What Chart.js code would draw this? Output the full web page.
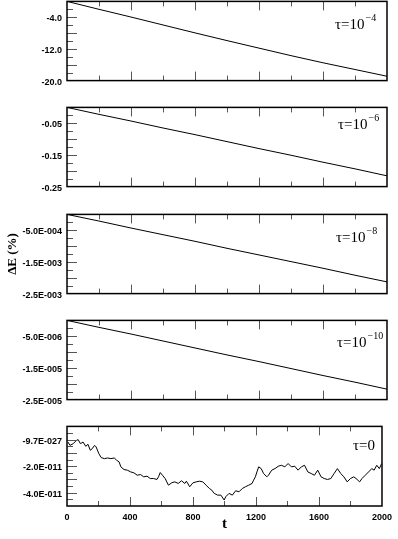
<!DOCTYPE html>
<html>
<head>
<meta charset="utf-8">
<script src="https://cdn.jsdelivr.net/npm/chart.js@4/dist/chart.umd.min.js"></script>
<style>
  body { margin: 0; background: #fff; }
  #wrap { position: relative; width: 398px; height: 539px; overflow: hidden; }
  #wrap canvas { position: absolute; left: 0; }
</style>
</head>
<body>
<div id="wrap"></div>
<script>
'use strict';

// time axis
const tSteps = [0, 200, 400, 600, 800, 1000, 1200, 1400, 1600, 1800, 2000];
const tTickLabels = ['0', '400', '800', '1200', '1600', '2000'];

// energy error, one series per tau
const dE_tau4 = [0, -2.0, -3.95, -5.95, -7.95, -9.9, -11.8, -13.7, -15.5, -17.2, -18.9];
const dE_tau6 = [0, -0.022, -0.043, -0.065, -0.086, -0.108, -0.130, -0.151, -0.173, -0.194, -0.216];
const dE_tau8 = [0, -2.1e-4, -4.3e-4, -6.4e-4, -8.5e-4, -1.07e-3, -1.28e-3, -1.49e-3, -1.70e-3, -1.92e-3, -2.13e-3];
const dE_tau10 = [0, -2.2e-6, -4.3e-6, -6.5e-6, -8.7e-6, -1.09e-5, -1.30e-5, -1.52e-5, -1.74e-5, -1.95e-5, -2.17e-5];

// tau = 0 : noisy trace (values in units of 1e-11 %)
const t_tau0 = [6, 19, 40, 60, 71, 85, 102, 119, 133, 148, 160, 175, 185, 202, 217, 237, 258, 279, 300, 315,
  331, 342, 362, 383, 404, 425, 446, 467, 487, 508, 529, 550, 571, 581, 592, 606, 623, 644, 665, 685,
  706, 727, 748, 758, 779, 800, 821, 842, 862, 883, 904, 919, 935, 956, 977, 998, 1008, 1029, 1050, 1071,
  1092, 1113, 1133, 1154, 1175, 1185, 1196, 1206, 1217, 1233, 1248, 1269, 1279, 1300, 1321, 1342, 1363, 1383, 1404, 1425,
  1446, 1467, 1488, 1508, 1529, 1550, 1571, 1592, 1613, 1633, 1654, 1675, 1696, 1717, 1738, 1758, 1779, 1800, 1821, 1842,
  1858, 1873, 1894, 1915, 1935, 1950, 1967, 1983, 1998];
const dE_tau0 = [-0.18, -0.43, -0.30, -0.05, 0.0, -0.30, -0.18, -0.5, -0.35, -0.8, -0.68, -0.43, -0.55, -1.05, -1.35, -1.43, -1.38, -1.43, -1.38, -1.55,
  -1.68, -2.05, -2.25, -2.3, -2.43, -2.5, -2.68, -2.63, -2.8, -2.75, -2.93, -2.93, -3.0, -2.8, -2.48, -2.68, -2.93, -3.43, -3.25, -3.18,
  -3.3, -3.1, -3.3, -3.13, -3.55, -3.25, -3.18, -3.13, -3.18, -3.43, -3.68, -3.8, -4.05, -4.18, -4.18, -4.55, -4.3, -4.05, -4.18, -3.85,
  -3.93, -3.68, -3.55, -3.43, -3.3, -3.05, -2.8, -2.43, -2.05, -2.18, -2.55, -2.8, -2.68, -2.3, -2.18, -2.0, -1.93, -2.05, -1.8, -2.05,
  -2.0, -2.3, -2.05, -1.93, -2.43, -2.55, -2.68, -2.3, -2.8, -2.93, -3.0, -2.93, -2.55, -2.18, -2.55, -2.8, -3.18, -2.93, -2.8, -3.0,
  -3.18, -2.93, -2.68, -2.43, -2.18, -2.3, -1.93, -2.18, -1.8];

// y tick values and their printed labels
const yTicks4 = [-20, -12, -4];
const yLabels4 = ['-20.0', '-12.0', '-4.0'];
const yTicks6 = [-0.25, -0.15, -0.05];
const yLabels6 = ['-0.25', '-0.15', '-0.05'];
const yTicks8 = [-2.5e-3, -1.5e-3, -5e-4];
const yLabels8 = ['-2.5E-003', '-1.5E-003', '-5.0E-004'];
const yTicks10 = [-2.5e-5, -1.5e-5, -5e-6];
const yLabels10 = ['-2.5E-005', '-1.5E-005', '-5.0E-006'];
const yTicks0 = [-4e-11, -2e-11, 0];
const yLabels0 = ['-4.0E-011', '-2.0E-011', '-9.7E-027'];

(function () {
  let wrap = document.getElementById('wrap');
  let sansTick = { family: 'Liberation Sans', size: 9, weight: 'bold' };

  let toPoints = (xs, ys, k) => xs.map((x, i) => ({ x, y: ys[i] * (k || 1) }));

  let panels = [
    { pts: toPoints(tSteps, dE_tau4), min: -20, max: 0, minor: 2, ticks: yTicks4, labels: yLabels4,
      tau: '10', sup: '\u22124', top: 1, tx: 335, ty: 28 },
    { pts: toPoints(tSteps, dE_tau6), min: -0.25, max: 0, minor: 0.025, ticks: yTicks6, labels: yLabels6,
      tau: '10', sup: '\u22126', top: 107, tx: 338, ty: 22 },
    { pts: toPoints(tSteps, dE_tau8), min: -2.5e-3, max: 0, minor: 2.5e-4, ticks: yTicks8, labels: yLabels8,
      tau: '10', sup: '\u22128', top: 214, tx: 336, ty: 28, yTitle: true },
    { pts: toPoints(tSteps, dE_tau10), min: -2.5e-5, max: 0, minor: 2.5e-6, ticks: yTicks10, labels: yLabels10,
      tau: '10', sup: '\u221210', top: 320, tx: 337, ty: 27 },
    { pts: toPoints(t_tau0, dE_tau0, 1e-11), min: -5e-11, max: 1e-11, minor: 5e-12, ticks: yTicks0, labels: yLabels0,
      tau: '0', sup: '', top: 426, tx: 353, ty: 24, xAxis: true }
  ];

  // frame, inward ticks and the tau label
  let framePlugin = {
    id: 'frame',
    afterDatasetsDraw(chart, args, opts) {
      let { ctx, chartArea: a, scales: { x, y } } = chart;
      let p = opts.panel;
      ctx.save();
      ctx.strokeStyle = '#555';
      ctx.lineWidth = 1;
      let seg = (x1, y1, x2, y2) => {
        ctx.beginPath(); ctx.moveTo(x1, y1); ctx.lineTo(x2, y2); ctx.stroke();
      };
      for (let t = 200; t < 2000; t += 200) {
        let px = Math.round(x.getPixelForValue(t)) + 0.5;
        let len = t % 400 === 0 ? 9 : 5;
        seg(px, a.top, px, a.top + len);
        seg(px, a.bottom, px, a.bottom - len);
      }
      let n = Math.round((p.max - p.min) / p.minor);
      for (let k = 1; k < n; k++) {
        let py = Math.round(y.getPixelForValue(p.min + k * p.minor)) + 0.5;
        seg(a.left, py, a.left + (k % 2 === 0 ? 10 : 6), py);
      }
      ctx.strokeStyle = '#000';
      ctx.lineWidth = 1.5;
      ctx.strokeRect(a.left, a.top, a.right - a.left, a.bottom - a.top);

      ctx.fillStyle = '#000';
      ctx.textBaseline = 'alphabetic';
      ctx.font = '15px "Liberation Serif"';
      let base = a.top + p.ty;
      let s = '\u03c4=' + p.tau;
      ctx.fillText(s, p.tx, base);
      if (p.sup) {
        let w = ctx.measureText(s).width;
        ctx.font = '10px "Liberation Serif"';
        ctx.fillText(p.sup, p.tx + w + 1, base - 8);
      }
      ctx.restore();
    }
  };

  panels.forEach(p => {
    let canvas = document.createElement('canvas');
    let h = p.xAxis ? 539 - (p.top - 10) : 100;
    canvas.width = 398;
    canvas.height = h;
    canvas.style.top = (p.top - 10) + 'px';
    wrap.appendChild(canvas);

    new Chart(canvas.getContext('2d'), {
      type: 'line',
      data: {
        datasets: [{
          data: p.pts,
          borderColor: '#000',
          borderWidth: 1,
          pointRadius: 0,
          tension: 0,
          fill: false
        }]
      },
      options: {
        responsive: false,
        animation: false,
        events: [],
        layout: { padding: { top: 10, bottom: p.xAxis ? 0 : 10, left: 0, right: 11 } },
        plugins: {
          legend: { display: false },
          tooltip: { enabled: false },
          frame: { panel: p }
        },
        scales: {
          x: {
            type: 'linear',
            min: 0,
            max: 2000,
            display: !!p.xAxis,
            grid: { display: false, drawTicks: false },
            border: { display: false },
            ticks: {
              stepSize: 400,
              padding: 6,
              color: '#000',
              font: sansTick,
              maxRotation: 0,
              callback: (v, i) => tTickLabels[i]
            },
            title: {
              display: !!p.xAxis,
              text: 't',
              color: '#000',
              font: { family: 'Liberation Serif', size: 15, weight: 'bold' },
              padding: { top: 0, bottom: 6 }
            },
            afterFit: scale => { scale.height = p.xAxis ? 33 : 0; }
          },
          y: {
            min: p.min,
            max: p.max,
            grid: { display: false, drawTicks: false },
            border: { display: false },
            afterBuildTicks: scale => { scale.ticks = p.ticks.map(v => ({ value: v })); },
            afterFit: scale => { scale.width = 67; },
            ticks: {
              padding: 5,
              color: '#000',
              font: sansTick,
              labelOffset: 1.5,
              callback: (v, i) => p.labels[i]
            },
            title: {
              display: !!p.yTitle,
              text: '\u0394E (%)',
              color: '#000',
              font: { family: 'Liberation Serif', size: 13, weight: 'bold' },
              padding: { top: 5, bottom: 0 }
            }
          }
        }
      },
      plugins: [framePlugin]
    });
  });
})();
</script>
</body>
</html>
